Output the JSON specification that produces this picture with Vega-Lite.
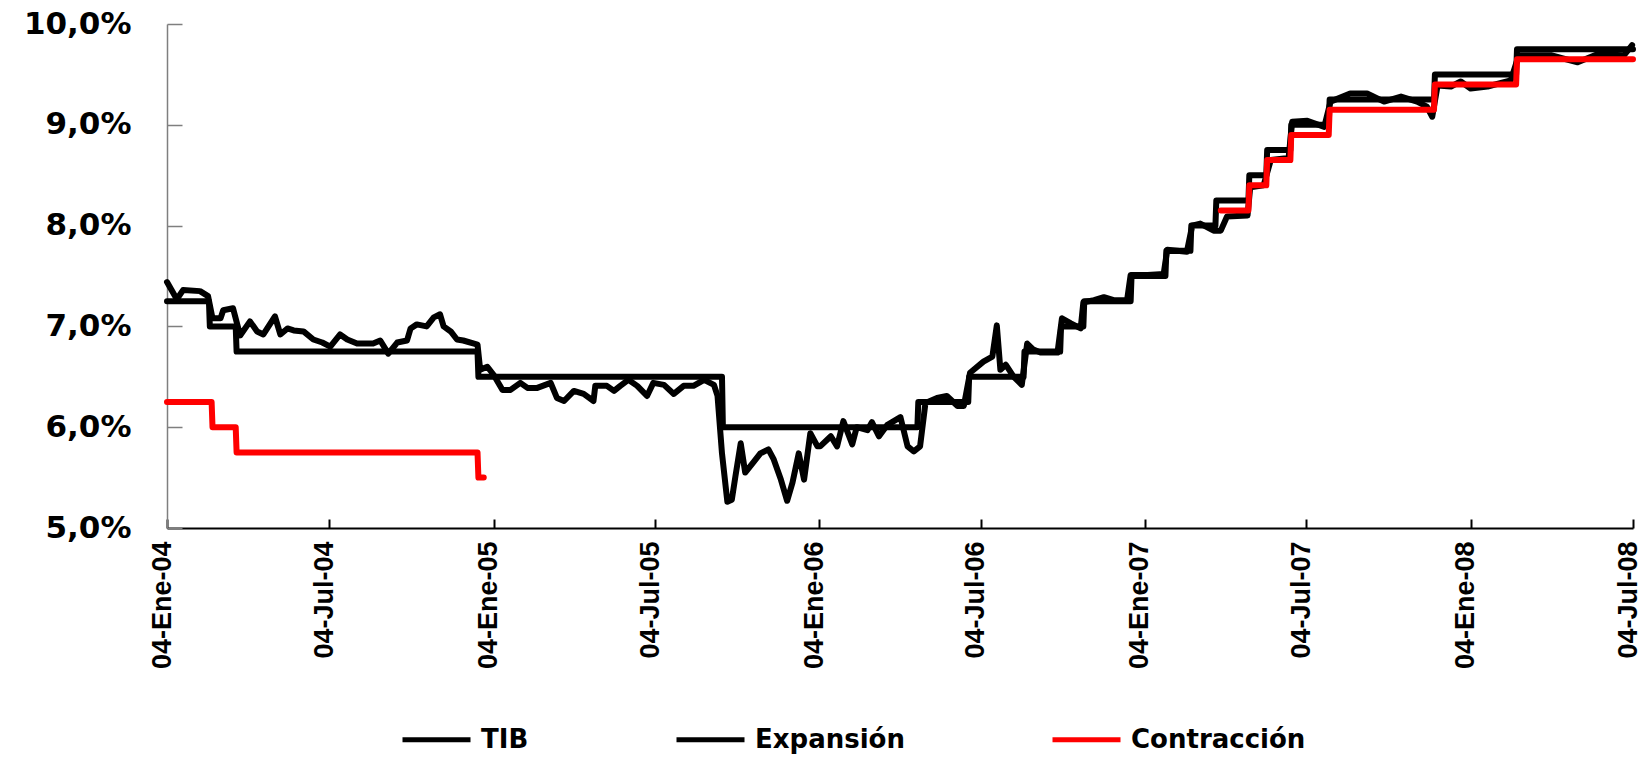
{
  "$schema": "https://vega.github.io/schema/vega-lite/v6.json",
  "autosize": {"type": "none"},
  "padding": {"left": 167, "top": 24, "right": 8, "bottom": 229},
  "width": 1466,
  "height": 504,
  "background": "white",
  "config": {"view": {"stroke": null}},
  "data": {"values": [
    {"fecha": "2004-01-04", "valor": 7.44, "serie": "TIB"},
    {"fecha": "2004-01-15", "valor": 7.27, "serie": "TIB"},
    {"fecha": "2004-01-22", "valor": 7.36, "serie": "TIB"},
    {"fecha": "2004-02-10", "valor": 7.35, "serie": "TIB"},
    {"fecha": "2004-02-19", "valor": 7.30, "serie": "TIB"},
    {"fecha": "2004-02-24", "valor": 7.08, "serie": "TIB"},
    {"fecha": "2004-03-04", "valor": 7.08, "serie": "TIB"},
    {"fecha": "2004-03-07", "valor": 7.16, "serie": "TIB"},
    {"fecha": "2004-03-18", "valor": 7.18, "serie": "TIB"},
    {"fecha": "2004-03-26", "valor": 6.91, "serie": "TIB"},
    {"fecha": "2004-04-06", "valor": 7.05, "serie": "TIB"},
    {"fecha": "2004-04-14", "valor": 6.95, "serie": "TIB"},
    {"fecha": "2004-04-21", "valor": 6.92, "serie": "TIB"},
    {"fecha": "2004-05-04", "valor": 7.10, "serie": "TIB"},
    {"fecha": "2004-05-10", "valor": 6.92, "serie": "TIB"},
    {"fecha": "2004-05-18", "valor": 6.98, "serie": "TIB"},
    {"fecha": "2004-05-25", "valor": 6.96, "serie": "TIB"},
    {"fecha": "2004-06-05", "valor": 6.95, "serie": "TIB"},
    {"fecha": "2004-06-16", "valor": 6.87, "serie": "TIB"},
    {"fecha": "2004-06-26", "valor": 6.84, "serie": "TIB"},
    {"fecha": "2004-07-05", "valor": 6.80, "serie": "TIB"},
    {"fecha": "2004-07-16", "valor": 6.92, "serie": "TIB"},
    {"fecha": "2004-07-24", "valor": 6.87, "serie": "TIB"},
    {"fecha": "2004-08-04", "valor": 6.83, "serie": "TIB"},
    {"fecha": "2004-08-22", "valor": 6.83, "serie": "TIB"},
    {"fecha": "2004-08-30", "valor": 6.86, "serie": "TIB"},
    {"fecha": "2004-09-08", "valor": 6.73, "serie": "TIB"},
    {"fecha": "2004-09-18", "valor": 6.84, "serie": "TIB"},
    {"fecha": "2004-09-29", "valor": 6.86, "serie": "TIB"},
    {"fecha": "2004-10-03", "valor": 6.98, "serie": "TIB"},
    {"fecha": "2004-10-10", "valor": 7.02, "serie": "TIB"},
    {"fecha": "2004-10-21", "valor": 7.00, "serie": "TIB"},
    {"fecha": "2004-10-29", "valor": 7.09, "serie": "TIB"},
    {"fecha": "2004-11-05", "valor": 7.12, "serie": "TIB"},
    {"fecha": "2004-11-09", "valor": 7.00, "serie": "TIB"},
    {"fecha": "2004-11-17", "valor": 6.95, "serie": "TIB"},
    {"fecha": "2004-11-24", "valor": 6.87, "serie": "TIB"},
    {"fecha": "2004-12-01", "valor": 6.86, "serie": "TIB"},
    {"fecha": "2004-12-17", "valor": 6.82, "serie": "TIB"},
    {"fecha": "2004-12-20", "valor": 6.57, "serie": "TIB"},
    {"fecha": "2004-12-28", "valor": 6.60, "serie": "TIB"},
    {"fecha": "2005-01-04", "valor": 6.52, "serie": "TIB"},
    {"fecha": "2005-01-14", "valor": 6.37, "serie": "TIB"},
    {"fecha": "2005-01-23", "valor": 6.37, "serie": "TIB"},
    {"fecha": "2005-02-03", "valor": 6.44, "serie": "TIB"},
    {"fecha": "2005-02-11", "valor": 6.39, "serie": "TIB"},
    {"fecha": "2005-02-22", "valor": 6.39, "serie": "TIB"},
    {"fecha": "2005-03-09", "valor": 6.44, "serie": "TIB"},
    {"fecha": "2005-03-16", "valor": 6.29, "serie": "TIB"},
    {"fecha": "2005-03-24", "valor": 6.26, "serie": "TIB"},
    {"fecha": "2005-04-04", "valor": 6.36, "serie": "TIB"},
    {"fecha": "2005-04-15", "valor": 6.33, "serie": "TIB"},
    {"fecha": "2005-04-26", "valor": 6.26, "serie": "TIB"},
    {"fecha": "2005-04-28", "valor": 6.41, "serie": "TIB"},
    {"fecha": "2005-05-11", "valor": 6.41, "serie": "TIB"},
    {"fecha": "2005-05-19", "valor": 6.36, "serie": "TIB"},
    {"fecha": "2005-05-26", "valor": 6.41, "serie": "TIB"},
    {"fecha": "2005-06-04", "valor": 6.47, "serie": "TIB"},
    {"fecha": "2005-06-14", "valor": 6.41, "serie": "TIB"},
    {"fecha": "2005-06-25", "valor": 6.31, "serie": "TIB"},
    {"fecha": "2005-07-02", "valor": 6.44, "serie": "TIB"},
    {"fecha": "2005-07-14", "valor": 6.42, "serie": "TIB"},
    {"fecha": "2005-07-25", "valor": 6.33, "serie": "TIB"},
    {"fecha": "2005-08-05", "valor": 6.41, "serie": "TIB"},
    {"fecha": "2005-08-16", "valor": 6.41, "serie": "TIB"},
    {"fecha": "2005-08-28", "valor": 6.47, "serie": "TIB"},
    {"fecha": "2005-09-08", "valor": 6.42, "serie": "TIB"},
    {"fecha": "2005-09-12", "valor": 6.31, "serie": "TIB"},
    {"fecha": "2005-09-17", "valor": 5.74, "serie": "TIB"},
    {"fecha": "2005-09-23", "valor": 5.26, "serie": "TIB"},
    {"fecha": "2005-09-28", "valor": 5.28, "serie": "TIB"},
    {"fecha": "2005-10-02", "valor": 5.51, "serie": "TIB"},
    {"fecha": "2005-10-08", "valor": 5.84, "serie": "TIB"},
    {"fecha": "2005-10-13", "valor": 5.55, "serie": "TIB"},
    {"fecha": "2005-10-23", "valor": 5.66, "serie": "TIB"},
    {"fecha": "2005-10-30", "valor": 5.74, "serie": "TIB"},
    {"fecha": "2005-11-08", "valor": 5.78, "serie": "TIB"},
    {"fecha": "2005-11-14", "valor": 5.68, "serie": "TIB"},
    {"fecha": "2005-11-22", "valor": 5.48, "serie": "TIB"},
    {"fecha": "2005-11-29", "valor": 5.27, "serie": "TIB"},
    {"fecha": "2005-12-05", "valor": 5.45, "serie": "TIB"},
    {"fecha": "2005-12-12", "valor": 5.74, "serie": "TIB"},
    {"fecha": "2005-12-18", "valor": 5.48, "serie": "TIB"},
    {"fecha": "2005-12-25", "valor": 5.94, "serie": "TIB"},
    {"fecha": "2006-01-02", "valor": 5.81, "serie": "TIB"},
    {"fecha": "2006-01-05", "valor": 5.81, "serie": "TIB"},
    {"fecha": "2006-01-17", "valor": 5.91, "serie": "TIB"},
    {"fecha": "2006-01-24", "valor": 5.81, "serie": "TIB"},
    {"fecha": "2006-01-31", "valor": 6.06, "serie": "TIB"},
    {"fecha": "2006-02-10", "valor": 5.83, "serie": "TIB"},
    {"fecha": "2006-02-15", "valor": 6.00, "serie": "TIB"},
    {"fecha": "2006-02-27", "valor": 5.97, "serie": "TIB"},
    {"fecha": "2006-03-04", "valor": 6.05, "serie": "TIB"},
    {"fecha": "2006-03-12", "valor": 5.91, "serie": "TIB"},
    {"fecha": "2006-03-21", "valor": 6.02, "serie": "TIB"},
    {"fecha": "2006-04-05", "valor": 6.10, "serie": "TIB"},
    {"fecha": "2006-04-13", "valor": 5.81, "serie": "TIB"},
    {"fecha": "2006-04-20", "valor": 5.76, "serie": "TIB"},
    {"fecha": "2006-04-27", "valor": 5.81, "serie": "TIB"},
    {"fecha": "2006-05-03", "valor": 6.24, "serie": "TIB"},
    {"fecha": "2006-05-16", "valor": 6.29, "serie": "TIB"},
    {"fecha": "2006-05-27", "valor": 6.31, "serie": "TIB"},
    {"fecha": "2006-06-08", "valor": 6.21, "serie": "TIB"},
    {"fecha": "2006-06-15", "valor": 6.21, "serie": "TIB"},
    {"fecha": "2006-06-22", "valor": 6.54, "serie": "TIB"},
    {"fecha": "2006-07-07", "valor": 6.65, "serie": "TIB"},
    {"fecha": "2006-07-17", "valor": 6.70, "serie": "TIB"},
    {"fecha": "2006-07-22", "valor": 7.01, "serie": "TIB"},
    {"fecha": "2006-07-26", "valor": 6.57, "serie": "TIB"},
    {"fecha": "2006-08-01", "valor": 6.62, "serie": "TIB"},
    {"fecha": "2006-08-10", "valor": 6.50, "serie": "TIB"},
    {"fecha": "2006-08-19", "valor": 6.42, "serie": "TIB"},
    {"fecha": "2006-08-25", "valor": 6.83, "serie": "TIB"},
    {"fecha": "2006-09-01", "valor": 6.77, "serie": "TIB"},
    {"fecha": "2006-09-09", "valor": 6.74, "serie": "TIB"},
    {"fecha": "2006-09-28", "valor": 6.74, "serie": "TIB"},
    {"fecha": "2006-10-03", "valor": 7.08, "serie": "TIB"},
    {"fecha": "2006-10-13", "valor": 7.03, "serie": "TIB"},
    {"fecha": "2006-10-24", "valor": 6.98, "serie": "TIB"},
    {"fecha": "2006-10-27", "valor": 7.24, "serie": "TIB"},
    {"fecha": "2006-11-08", "valor": 7.26, "serie": "TIB"},
    {"fecha": "2006-11-19", "valor": 7.29, "serie": "TIB"},
    {"fecha": "2006-11-30", "valor": 7.26, "serie": "TIB"},
    {"fecha": "2006-12-15", "valor": 7.26, "serie": "TIB"},
    {"fecha": "2006-12-19", "valor": 7.51, "serie": "TIB"},
    {"fecha": "2007-01-07", "valor": 7.51, "serie": "TIB"},
    {"fecha": "2007-01-25", "valor": 7.52, "serie": "TIB"},
    {"fecha": "2007-01-29", "valor": 7.76, "serie": "TIB"},
    {"fecha": "2007-02-20", "valor": 7.74, "serie": "TIB"},
    {"fecha": "2007-02-26", "valor": 8.00, "serie": "TIB"},
    {"fecha": "2007-03-07", "valor": 8.02, "serie": "TIB"},
    {"fecha": "2007-03-22", "valor": 7.95, "serie": "TIB"},
    {"fecha": "2007-03-30", "valor": 7.95, "serie": "TIB"},
    {"fecha": "2007-04-06", "valor": 8.09, "serie": "TIB"},
    {"fecha": "2007-04-29", "valor": 8.10, "serie": "TIB"},
    {"fecha": "2007-05-02", "valor": 8.38, "serie": "TIB"},
    {"fecha": "2007-05-17", "valor": 8.40, "serie": "TIB"},
    {"fecha": "2007-05-25", "valor": 8.65, "serie": "TIB"},
    {"fecha": "2007-06-14", "valor": 8.67, "serie": "TIB"},
    {"fecha": "2007-06-18", "valor": 9.03, "serie": "TIB"},
    {"fecha": "2007-07-05", "valor": 9.04, "serie": "TIB"},
    {"fecha": "2007-07-24", "valor": 8.98, "serie": "TIB"},
    {"fecha": "2007-07-31", "valor": 9.23, "serie": "TIB"},
    {"fecha": "2007-08-22", "valor": 9.31, "serie": "TIB"},
    {"fecha": "2007-09-10", "valor": 9.31, "serie": "TIB"},
    {"fecha": "2007-09-29", "valor": 9.23, "serie": "TIB"},
    {"fecha": "2007-10-18", "valor": 9.28, "serie": "TIB"},
    {"fecha": "2007-11-05", "valor": 9.23, "serie": "TIB"},
    {"fecha": "2007-11-16", "valor": 9.18, "serie": "TIB"},
    {"fecha": "2007-11-22", "valor": 9.08, "serie": "TIB"},
    {"fecha": "2007-11-28", "valor": 9.39, "serie": "TIB"},
    {"fecha": "2007-12-13", "valor": 9.38, "serie": "TIB"},
    {"fecha": "2007-12-24", "valor": 9.43, "serie": "TIB"},
    {"fecha": "2008-01-04", "valor": 9.36, "serie": "TIB"},
    {"fecha": "2008-01-23", "valor": 9.38, "serie": "TIB"},
    {"fecha": "2008-02-18", "valor": 9.44, "serie": "TIB"},
    {"fecha": "2008-02-27", "valor": 9.69, "serie": "TIB"},
    {"fecha": "2008-04-03", "valor": 9.69, "serie": "TIB"},
    {"fecha": "2008-05-03", "valor": 9.62, "serie": "TIB"},
    {"fecha": "2008-05-25", "valor": 9.70, "serie": "TIB"},
    {"fecha": "2008-06-24", "valor": 9.69, "serie": "TIB"},
    {"fecha": "2008-07-03", "valor": 9.79, "serie": "TIB"},

    {"fecha": "2004-01-04", "valor": 7.25, "serie": "Expansión"},
    {"fecha": "2004-02-20", "valor": 7.25, "serie": "Expansión"},
    {"fecha": "2004-02-21", "valor": 7.00, "serie": "Expansión"},
    {"fecha": "2004-03-21", "valor": 7.00, "serie": "Expansión"},
    {"fecha": "2004-03-22", "valor": 6.75, "serie": "Expansión"},
    {"fecha": "2004-12-17", "valor": 6.75, "serie": "Expansión"},
    {"fecha": "2004-12-18", "valor": 6.50, "serie": "Expansión"},
    {"fecha": "2005-09-17", "valor": 6.50, "serie": "Expansión"},
    {"fecha": "2005-09-18", "valor": 6.00, "serie": "Expansión"},
    {"fecha": "2006-04-24", "valor": 6.00, "serie": "Expansión"},
    {"fecha": "2006-04-25", "valor": 6.25, "serie": "Expansión"},
    {"fecha": "2006-06-20", "valor": 6.25, "serie": "Expansión"},
    {"fecha": "2006-06-21", "valor": 6.50, "serie": "Expansión"},
    {"fecha": "2006-08-21", "valor": 6.50, "serie": "Expansión"},
    {"fecha": "2006-08-22", "valor": 6.75, "serie": "Expansión"},
    {"fecha": "2006-10-01", "valor": 6.75, "serie": "Expansión"},
    {"fecha": "2006-10-02", "valor": 7.00, "serie": "Expansión"},
    {"fecha": "2006-10-27", "valor": 7.00, "serie": "Expansión"},
    {"fecha": "2006-10-28", "valor": 7.25, "serie": "Expansión"},
    {"fecha": "2006-12-19", "valor": 7.25, "serie": "Expansión"},
    {"fecha": "2006-12-20", "valor": 7.50, "serie": "Expansión"},
    {"fecha": "2007-01-27", "valor": 7.50, "serie": "Expansión"},
    {"fecha": "2007-01-28", "valor": 7.75, "serie": "Expansión"},
    {"fecha": "2007-02-24", "valor": 7.75, "serie": "Expansión"},
    {"fecha": "2007-02-25", "valor": 8.00, "serie": "Expansión"},
    {"fecha": "2007-03-24", "valor": 8.00, "serie": "Expansión"},
    {"fecha": "2007-03-25", "valor": 8.25, "serie": "Expansión"},
    {"fecha": "2007-04-30", "valor": 8.25, "serie": "Expansión"},
    {"fecha": "2007-05-01", "valor": 8.50, "serie": "Expansión"},
    {"fecha": "2007-05-20", "valor": 8.50, "serie": "Expansión"},
    {"fecha": "2007-05-21", "valor": 8.75, "serie": "Expansión"},
    {"fecha": "2007-06-16", "valor": 8.75, "serie": "Expansión"},
    {"fecha": "2007-06-17", "valor": 9.00, "serie": "Expansión"},
    {"fecha": "2007-07-29", "valor": 9.00, "serie": "Expansión"},
    {"fecha": "2007-07-30", "valor": 9.25, "serie": "Expansión"},
    {"fecha": "2007-11-24", "valor": 9.25, "serie": "Expansión"},
    {"fecha": "2007-11-25", "valor": 9.50, "serie": "Expansión"},
    {"fecha": "2008-02-24", "valor": 9.50, "serie": "Expansión"},
    {"fecha": "2008-02-25", "valor": 9.75, "serie": "Expansión"},
    {"fecha": "2008-07-04", "valor": 9.75, "serie": "Expansión"},

    {"fecha": "2004-01-04", "valor": 6.25, "serie": "Contracción", "tramo": 1},
    {"fecha": "2004-02-23", "valor": 6.25, "serie": "Contracción", "tramo": 1},
    {"fecha": "2004-02-24", "valor": 6.00, "serie": "Contracción", "tramo": 1},
    {"fecha": "2004-03-21", "valor": 6.00, "serie": "Contracción", "tramo": 1},
    {"fecha": "2004-03-22", "valor": 5.75, "serie": "Contracción", "tramo": 1},
    {"fecha": "2004-12-17", "valor": 5.75, "serie": "Contracción", "tramo": 1},
    {"fecha": "2004-12-18", "valor": 5.50, "serie": "Contracción", "tramo": 1},
    {"fecha": "2004-12-24", "valor": 5.50, "serie": "Contracción", "tramo": 1},
    {"fecha": "2007-03-30", "valor": 8.15, "serie": "Contracción", "tramo": 2},
    {"fecha": "2007-04-30", "valor": 8.15, "serie": "Contracción", "tramo": 2},
    {"fecha": "2007-05-01", "valor": 8.40, "serie": "Contracción", "tramo": 2},
    {"fecha": "2007-05-20", "valor": 8.40, "serie": "Contracción", "tramo": 2},
    {"fecha": "2007-05-21", "valor": 8.65, "serie": "Contracción", "tramo": 2},
    {"fecha": "2007-06-16", "valor": 8.65, "serie": "Contracción", "tramo": 2},
    {"fecha": "2007-06-17", "valor": 8.90, "serie": "Contracción", "tramo": 2},
    {"fecha": "2007-07-29", "valor": 8.90, "serie": "Contracción", "tramo": 2},
    {"fecha": "2007-07-30", "valor": 9.15, "serie": "Contracción", "tramo": 2},
    {"fecha": "2007-11-24", "valor": 9.15, "serie": "Contracción", "tramo": 2},
    {"fecha": "2007-11-25", "valor": 9.40, "serie": "Contracción", "tramo": 2},
    {"fecha": "2008-02-24", "valor": 9.40, "serie": "Contracción", "tramo": 2},
    {"fecha": "2008-02-25", "valor": 9.65, "serie": "Contracción", "tramo": 2},
    {"fecha": "2008-07-04", "valor": 9.65, "serie": "Contracción", "tramo": 2}
  ]},
  "mark": {"type": "line", "strokeWidth": 6, "strokeCap": "round", "strokeJoin": "round"},
  "encoding": {
    "x": {
      "field": "fecha", "type": "temporal",
      "scale": {"type": "utc", "domain": [{"year": 2004, "month": 1, "date": 4, "utc": true}, {"year": 2008, "month": 7, "date": 4, "utc": true}]},
      "axis": {
        "title": null, "grid": false,
        "values": [
          {"year": 2004, "month": 1, "date": 4, "utc": true},
          {"year": 2004, "month": 7, "date": 4, "utc": true},
          {"year": 2005, "month": 1, "date": 4, "utc": true},
          {"year": 2005, "month": 7, "date": 4, "utc": true},
          {"year": 2006, "month": 1, "date": 4, "utc": true},
          {"year": 2006, "month": 7, "date": 4, "utc": true},
          {"year": 2007, "month": 1, "date": 4, "utc": true},
          {"year": 2007, "month": 7, "date": 4, "utc": true},
          {"year": 2008, "month": 1, "date": 4, "utc": true},
          {"year": 2008, "month": 7, "date": 4, "utc": true}
        ],
        "labelExpr": "utcFormat(datum.value, '%d') + '-' + (utcmonth(datum.value) == 0 ? 'Ene' : 'Jul') + '-' + utcFormat(datum.value, '%y')",
        "labelAngle": -90,
        "labelFont": "Liberation Sans", "labelFontWeight": "bold", "labelFontSize": 27, "labelColor": "#000000",
        "labelOverlap": false, "labelBound": false, "labelFlush": false,
        "labelOffset": -5,
        "tickSize": -9, "tickWidth": 2, "tickColor": "#000000",
        "labelPadding": 22,
        "domainColor": "#000000", "domainWidth": 2
      }
    },
    "y": {
      "field": "valor", "type": "quantitative",
      "scale": {"domain": [5, 10], "zero": false, "nice": false},
      "axis": {
        "title": null, "grid": false,
        "values": [5, 6, 7, 8, 9, 10],
        "labelExpr": "replace(format(datum.value, '.1f'), '.', ',') + '%'",
        "labelFont": "DejaVu Sans", "labelFontWeight": "bold", "labelFontSize": 31, "labelColor": "#000000",
        "labelOverlap": false, "labelBound": false, "labelFlush": false,
        "tickSize": -15, "tickWidth": 1.5, "tickColor": "#7f7f7f",
        "labelPadding": 51,
        "domainColor": "#7f7f7f", "domainWidth": 1.5
      }
    },
    "color": {
      "field": "serie", "type": "nominal",
      "scale": {"domain": ["TIB", "Expansión", "Contracción"], "range": ["#000000", "#000000", "#ff0000"]},
      "legend": {
        "title": null, "orient": "none", "legendX": 233, "legendY": 679,
        "direction": "horizontal", "padding": 0,
        "symbolType": "stroke", "symbolSize": 4624, "symbolStrokeWidth": 5,
        "labelFont": "DejaVu Sans", "labelFontWeight": "bold", "labelFontSize": 26, "labelColor": "#000000",
        "labelLimit": 400, "labelOffset": 8, "columnPadding": 137
      }
    },
    "detail": {"field": "tramo", "type": "nominal"}
  }
}
